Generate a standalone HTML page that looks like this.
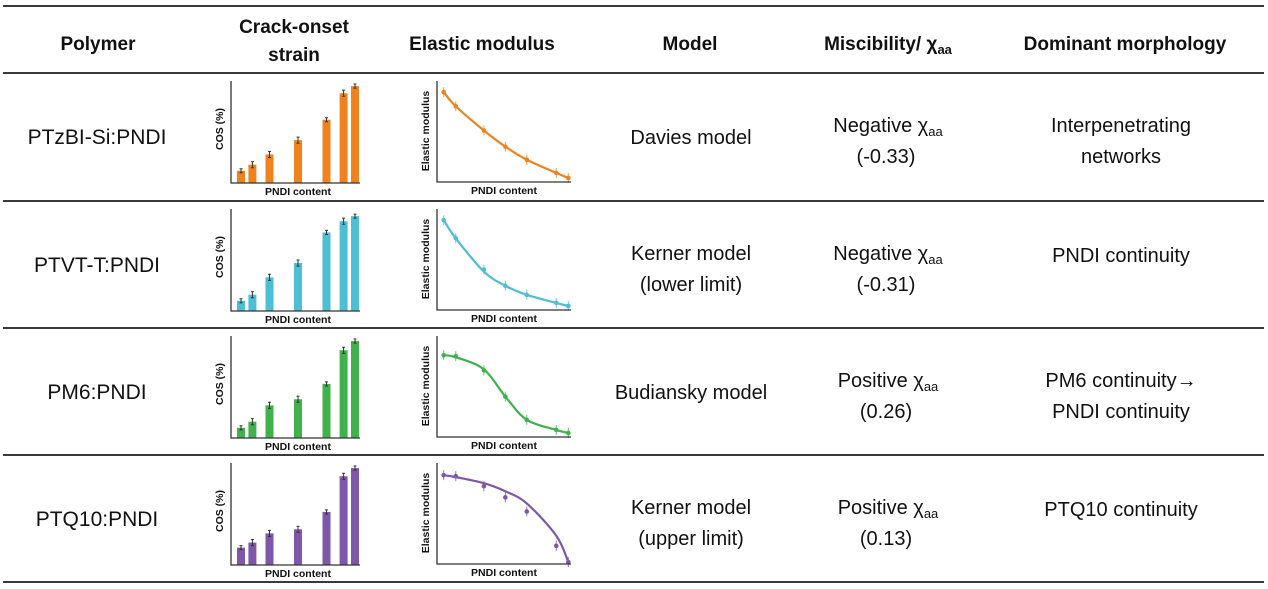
<!DOCTYPE html>
<html><head><meta charset="utf-8"><style>
html,body{margin:0;padding:0;background:#fff;}
svg{display:block;}
text{font-family:"Liberation Sans",sans-serif;}
</style></head><body>
<svg id="tbl" width="1268" height="589" viewBox="0 0 1268 589" xmlns="http://www.w3.org/2000/svg"></svg>
<script>
// ---- data ----
var polymers = ["PTzBI-Si:PNDI","PTVT-T:PNDI","PM6:PNDI","PTQ10:PNDI"];
var colors = ["#f0821e","#4cbfd4","#40b14c","#7e57a9"];
var cosX = [10,18,30,50,70,82,90];
var cosRow1 = [12,18,28,42,62,88,95];
var cosRow2 = [10,16,33,47,77,88,93];
var cosRow3 = [10,16,32,38,53,86,95];
var cosRow4 = [17,22,31,35,52,87,95];
var cosErr = [2,3,3,3,2,3,2];
var modX1 = [5,14,35,51,67,89,98];
var modRow1 = [0.89,0.75,0.51,0.35,0.22,0.09,0.04];
var modRow2 = [0.89,0.71,0.40,0.24,0.15,0.07,0.04];
var modRow3 = [0.81,0.80,0.66,0.40,0.17,0.07,0.04];
var modRow4 = [0.88,0.87,0.77,0.66,0.52,0.18,0.02];
var fitRow1 = [0.89,0.75,0.51,0.35,0.22,0.09,0.04];
var fitRow2 = [0.89,0.71,0.38,0.24,0.15,0.07,0.04];
var fitRow3 = [0.81,0.79,0.67,0.40,0.17,0.07,0.04];
var fitRow4 = [0.88,0.86,0.80,0.72,0.60,0.28,0.02];
var models = [["Davies model"],["Kerner model","(lower limit)"],["Budiansky model"],["Kerner model","(upper limit)"]];
var signs = ["Negative","Negative","Positive","Positive"];
var chiVals = ["(-0.33)","(-0.31)","(0.26)","(0.13)"];
var morph = [["Interpenetrating","networks"],["PNDI continuity"],["PM6 continuity\u2192","PNDI continuity"],["PTQ10 continuity"]];

var cosRows=[cosRow1,cosRow2,cosRow3,cosRow4];
var modRows=[modRow1,modRow2,modRow3,modRow4];
var fitRows=[fitRow1,fitRow2,fitRow3,fitRow4];

var NS="http://www.w3.org/2000/svg";
var svg=document.getElementById('tbl');
function mk(tag,attrs,parent){var e=document.createElementNS(NS,tag);for(var k in attrs)e.setAttribute(k,attrs[k]);(parent||svg).appendChild(e);return e;}

var ruleY=[6,73,201,328,455,582];
ruleY.forEach(function(y,i){
  var l=mk('line',{x1:3,x2:1264,y1:y,y2:y,stroke:'#3a3a3a','stroke-width':2});
  
  
});

function txt(x,y,s,size,weight,parent){var t=mk('text',{x:x,y:y,'font-size':size,'font-weight':weight||'normal','text-anchor':'middle',fill:'#111'},parent);t.textContent=s;return t;}
var hdr=mk('g',{});


var h;
h=txt(98,50,"Polymer",19,'bold',hdr);
h=txt(294,33,"Crack-onset",19,'bold',hdr);
h=txt(294,61,"strain",19,'bold',hdr);
h=txt(482,50,"Elastic modulus",19,'bold',hdr);
h=txt(690,50,"Model",19,'bold',hdr);
h=mk('text',{x:888,y:50,'font-size':19,'font-weight':'bold','text-anchor':'middle',fill:'#111'},hdr);
h.innerHTML='Miscibility/ \u03c7<tspan font-size="13" dy="4">aa</tspan>';

h=txt(1125,50,"Dominant morphology",19,'bold',hdr);

function smoothPath(pts){
  var d='M'+pts[0][0]+','+pts[0][1];
  for(var i=0;i<pts.length-1;i++){
    var p0=pts[i-1]||pts[i],p1=pts[i],p2=pts[i+1],p3=pts[i+2]||p2;
    var c1x=p1[0]+(p2[0]-p0[0])/6,c1y=p1[1]+(p2[1]-p0[1])/6;
    var c2x=p2[0]-(p3[0]-p1[0])/6,c2y=p2[1]-(p3[1]-p1[1])/6;
    d+=' C'+c1x+','+c1y+' '+c2x+','+c2y+' '+p2[0]+','+p2[1];
  }
  return d;
}

function drawRow(r){
  var rowTop=ruleY[r+1], col=colors[r];
  var row=mk('g',{});
  
  
  var t=txt(97,rowTop+71,polymers[r],21,'normal',row);
  
  

  var bc=mk('g',{},row);
  
  
  var ax0=231, ax1=360, ay0=rowTop+110, ay1=rowTop+8;
  var xS=function(v){return 241+(v-10)*(355-241)/80;};
  var yS=function(v){return ay0-(v/100)*(ay0-ay1);};
  cosRows[r].forEach(function(v,i){
    var cx=xS(cosX[i]);
    var b=mk('rect',{x:cx-4,y:yS(v),width:8,height:ay0-yS(v),fill:col},bc);
    
    
    var e=cosErr[i];
    var eb=mk('path',{d:'M'+cx+','+yS(v+e)+'V'+yS(v-e)+'M'+(cx-1.5)+','+yS(v+e)+'h3M'+(cx-1.5)+','+yS(v-e)+'h3',stroke:'#333','stroke-width':1,fill:'none'},bc);
    
    
  });
  var ax=mk('path',{d:'M'+ax0+','+ay1+'V'+ay0+'H'+ax1,stroke:'#333','stroke-width':1.3,fill:'none'},bc);
  
  var yl=mk('text',{x:0,y:0,'font-size':10.5,'font-weight':'bold','text-anchor':'middle',fill:'#111',transform:'translate(223,'+(rowTop+56)+') rotate(-90)'},bc);
  yl.textContent='COS (%)';
  var xl=mk('text',{x:298,y:rowTop+122,'font-size':10.5,'font-weight':'bold','text-anchor':'middle',fill:'#111'},bc);
  xl.textContent='PNDI content';

  var mc=mk('g',{},row);
  
  
  var mx0=437, mx1=571, my0=rowTop+109, my1=rowTop+8;
  var mxS=function(v){return mx0+v/100*(mx1-mx0);};
  var myS=function(v){return my0-v*(my0-my1);};
  var fp=fitRows[r].map(function(v,i){return [mxS(modX1[i]),myS(v)];});
  var fl=mk('path',{d:smoothPath(fp),stroke:col,'stroke-width':2.2,fill:'none'},mc);
  
  modRows[r].forEach(function(v,i){
    var px=mxS(modX1[i]),py=myS(v);
    var eb=mk('path',{d:'M'+px+','+(py-5)+'V'+(py+5),stroke:col,'stroke-width':1,fill:'none',opacity:0.8},mc);
    
    var c=mk('circle',{cx:px,cy:py,r:2.3,fill:col},mc);
    
  });
  var ax2=mk('path',{d:'M'+mx0+','+my1+'V'+my0+'H'+mx1,stroke:'#333','stroke-width':1.3,fill:'none'},mc);
  
  var yl2=mk('text',{x:0,y:0,'font-size':10.5,'font-weight':'bold','text-anchor':'middle',fill:'#111',transform:'translate(429,'+(rowTop+58)+') rotate(-90)'},mc);
  yl2.textContent='Elastic modulus';
  var xl2=mk('text',{x:504,y:rowTop+121,'font-size':10.5,'font-weight':'bold','text-anchor':'middle',fill:'#111'},mc);
  xl2.textContent='PNDI content';

  var m=models[r];
  m.forEach(function(s,i){
    var y = m.length==1 ? rowTop+71 : rowTop+59+i*31;
    var tt=txt(691,y,s,20,'normal',row);
    
  });
  var mt=mk('text',{x:888,y:rowTop+59,'font-size':20,'text-anchor':'middle',fill:'#111'},row);
  mt.innerHTML=signs[r]+' \u03c7<tspan font-size="13" dy="4">aa</tspan>';
  
  var mv=txt(886,rowTop+90,chiVals[r],20,'normal',row);
  
  var mo=morph[r];
  mo.forEach(function(s,i){
    var y = mo.length==1 ? rowTop+61 : rowTop+59+i*31;
    var tt=txt(1121,y,s,20,'normal',row);
    
  });
}
for(var ri=0;ri<4;ri++){drawRow(ri);}
</script>
</body></html>
